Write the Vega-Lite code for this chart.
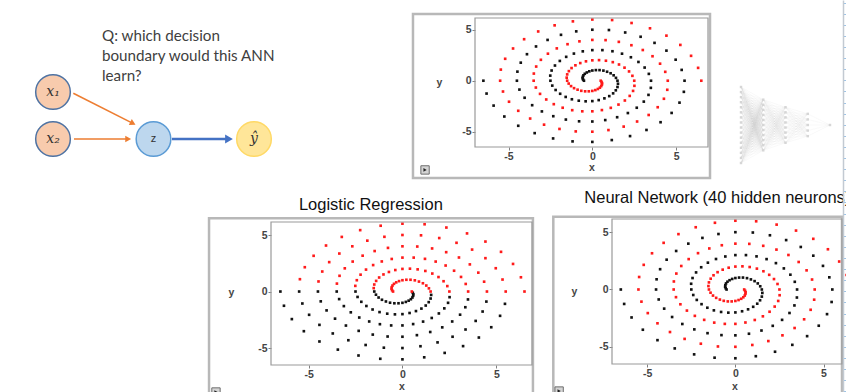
{
"$schema": "https://vega.github.io/schema/vega-lite/v6.json",
"width": 846, "height": 392, "autosize": "none", "padding": 0, "background": "white",
"config": {
 "view": {"stroke": null},
 "axis": {"zindex": 1, "grid": false, "domain": false, "labelFont": "Liberation Sans", "labelFontWeight": "bold", "labelFontSize": 10.5, "labelColor": "#454545", "tickColor": "#808080", "tickSize": 3, "labelPadding": 1, "titleFont": "Liberation Sans", "titleFontWeight": "bold", "titleFontSize": 10.5, "titleColor": "#454545", "titleAngle": 0, "titleAlign": "center", "titleBaseline": "middle", "labelExpr": "datum.value"}
},
"datasets": {
 "spiral": [
{"x":6.5,"y":0,"label":1,"lr":1},{"x":6.31,"y":1.26,"label":1,"lr":1},{"x":5.89,"y":2.44,"label":1,"lr":1},{"x":5.25,"y":3.51,"label":1,"lr":1},
{"x":4.42,"y":4.42,"label":1,"lr":1},{"x":3.44,"y":5.14,"label":1,"lr":1},{"x":2.34,"y":5.66,"label":1,"lr":1},{"x":1.18,"y":5.95,"label":1,"lr":1},
{"x":0,"y":6,"label":1,"lr":1},{"x":-1.16,"y":5.82,"label":1,"lr":1},{"x":-2.25,"y":5.43,"label":1,"lr":1},{"x":-3.23,"y":4.83,"label":1,"lr":1},
{"x":-4.07,"y":4.07,"label":1,"lr":1},{"x":-4.73,"y":3.16,"label":1,"lr":1},{"x":-5.2,"y":2.15,"label":1,"lr":1},{"x":-5.46,"y":1.09,"label":1,"lr":1},
{"x":-5.5,"y":0,"label":1,"lr":0},{"x":-5.33,"y":-1.06,"label":1,"lr":0},{"x":-4.97,"y":-2.06,"label":1,"lr":0},{"x":-4.42,"y":-2.95,"label":1,"lr":0},
{"x":-3.71,"y":-3.71,"label":1,"lr":0},{"x":-2.88,"y":-4.31,"label":1,"lr":0},{"x":-1.96,"y":-4.73,"label":1,"lr":0},{"x":-0.99,"y":-4.97,"label":1,"lr":0},
{"x":0,"y":-5,"label":1,"lr":0},{"x":0.96,"y":-4.84,"label":1,"lr":0},{"x":1.87,"y":-4.5,"label":1,"lr":0},{"x":2.67,"y":-4,"label":1,"lr":0},
{"x":3.36,"y":-3.36,"label":1,"lr":0},{"x":3.9,"y":-2.6,"label":1,"lr":0},{"x":4.27,"y":-1.77,"label":1,"lr":0},{"x":4.47,"y":-0.89,"label":1,"lr":0},
{"x":4.5,"y":0,"label":1,"lr":1},{"x":4.35,"y":0.87,"label":1,"lr":1},{"x":4.04,"y":1.67,"label":1,"lr":1},{"x":3.59,"y":2.4,"label":1,"lr":1},
{"x":3.01,"y":3.01,"label":1,"lr":1},{"x":2.33,"y":3.48,"label":1,"lr":1},{"x":1.58,"y":3.81,"label":1,"lr":1},{"x":0.79,"y":3.98,"label":1,"lr":1},
{"x":0,"y":4,"label":1,"lr":1},{"x":-0.77,"y":3.86,"label":1,"lr":1},{"x":-1.48,"y":3.58,"label":1,"lr":1},{"x":-2.12,"y":3.17,"label":1,"lr":1},
{"x":-2.65,"y":2.65,"label":1,"lr":1},{"x":-3.07,"y":2.05,"label":1,"lr":1},{"x":-3.35,"y":1.39,"label":1,"lr":1},{"x":-3.49,"y":0.7,"label":1,"lr":1},
{"x":-3.5,"y":0,"label":1,"lr":0},{"x":-3.37,"y":-0.67,"label":1,"lr":0},{"x":-3.12,"y":-1.29,"label":1,"lr":0},{"x":-2.75,"y":-1.84,"label":1,"lr":0},
{"x":-2.3,"y":-2.3,"label":1,"lr":0},{"x":-1.77,"y":-2.65,"label":1,"lr":0},{"x":-1.2,"y":-2.89,"label":1,"lr":0},{"x":-0.6,"y":-3,"label":1,"lr":0},
{"x":0,"y":-3,"label":1,"lr":0},{"x":0.57,"y":-2.88,"label":1,"lr":0},{"x":1.1,"y":-2.66,"label":1,"lr":0},{"x":1.56,"y":-2.34,"label":1,"lr":0},
{"x":1.94,"y":-1.94,"label":1,"lr":0},{"x":2.23,"y":-1.49,"label":1,"lr":0},{"x":2.43,"y":-1,"label":1,"lr":0},{"x":2.51,"y":-0.5,"label":1,"lr":0},
{"x":2.5,"y":0,"label":1,"lr":1},{"x":2.39,"y":0.48,"label":1,"lr":1},{"x":2.19,"y":0.91,"label":1,"lr":1},{"x":1.92,"y":1.28,"label":1,"lr":1},
{"x":1.59,"y":1.59,"label":1,"lr":1},{"x":1.22,"y":1.82,"label":1,"lr":1},{"x":0.81,"y":1.96,"label":1,"lr":1},{"x":0.4,"y":2.02,"label":1,"lr":1},
{"x":0,"y":2,"label":1,"lr":1},{"x":-0.38,"y":1.9,"label":1,"lr":1},{"x":-0.72,"y":1.73,"label":1,"lr":1},{"x":-1.01,"y":1.51,"label":1,"lr":1},
{"x":-1.24,"y":1.24,"label":1,"lr":1},{"x":-1.4,"y":0.94,"label":1,"lr":1},{"x":-1.5,"y":0.62,"label":1,"lr":1},{"x":-1.53,"y":0.3,"label":1,"lr":1},
{"x":-1.5,"y":0,"label":1,"lr":0},{"x":-1.41,"y":-0.28,"label":1,"lr":0},{"x":-1.27,"y":-0.53,"label":1,"lr":0},{"x":-1.09,"y":-0.73,"label":1,"lr":0},
{"x":-0.88,"y":-0.88,"label":1,"lr":0},{"x":-0.66,"y":-0.99,"label":1,"lr":0},{"x":-0.43,"y":-1.04,"label":1,"lr":0},{"x":-0.21,"y":-1.04,"label":1,"lr":0},
{"x":0,"y":-1,"label":1,"lr":0},{"x":0.18,"y":-0.92,"label":1,"lr":0},{"x":0.33,"y":-0.81,"label":1,"lr":0},{"x":0.45,"y":-0.68,"label":1,"lr":0},
{"x":0.53,"y":-0.53,"label":1,"lr":0},{"x":0.57,"y":-0.38,"label":1,"lr":0},{"x":0.58,"y":-0.24,"label":1,"lr":0},{"x":0.55,"y":-0.11,"label":1,"lr":0},
{"x":0.5,"y":0,"label":1,"lr":1},
{"x":-6.5,"y":0,"label":0,"lr":0},{"x":-6.31,"y":-1.26,"label":0,"lr":0},{"x":-5.89,"y":-2.44,"label":0,"lr":0},{"x":-5.25,"y":-3.51,"label":0,"lr":0},
{"x":-4.42,"y":-4.42,"label":0,"lr":0},{"x":-3.44,"y":-5.14,"label":0,"lr":0},{"x":-2.34,"y":-5.66,"label":0,"lr":0},{"x":-1.18,"y":-5.95,"label":0,"lr":0},
{"x":0,"y":-6,"label":0,"lr":0},{"x":1.16,"y":-5.82,"label":0,"lr":0},{"x":2.25,"y":-5.43,"label":0,"lr":0},{"x":3.23,"y":-4.83,"label":0,"lr":0},
{"x":4.07,"y":-4.07,"label":0,"lr":0},{"x":4.73,"y":-3.16,"label":0,"lr":0},{"x":5.2,"y":-2.15,"label":0,"lr":0},{"x":5.46,"y":-1.09,"label":0,"lr":0},
{"x":5.5,"y":0,"label":0,"lr":1},{"x":5.33,"y":1.06,"label":0,"lr":1},{"x":4.97,"y":2.06,"label":0,"lr":1},{"x":4.42,"y":2.95,"label":0,"lr":1},
{"x":3.71,"y":3.71,"label":0,"lr":1},{"x":2.88,"y":4.31,"label":0,"lr":1},{"x":1.96,"y":4.73,"label":0,"lr":1},{"x":0.99,"y":4.97,"label":0,"lr":1},
{"x":0,"y":5,"label":0,"lr":1},{"x":-0.96,"y":4.84,"label":0,"lr":1},{"x":-1.87,"y":4.5,"label":0,"lr":1},{"x":-2.67,"y":4,"label":0,"lr":1},
{"x":-3.36,"y":3.36,"label":0,"lr":1},{"x":-3.9,"y":2.6,"label":0,"lr":1},{"x":-4.27,"y":1.77,"label":0,"lr":1},{"x":-4.47,"y":0.89,"label":0,"lr":1},
{"x":-4.5,"y":0,"label":0,"lr":0},{"x":-4.35,"y":-0.87,"label":0,"lr":0},{"x":-4.04,"y":-1.67,"label":0,"lr":0},{"x":-3.59,"y":-2.4,"label":0,"lr":0},
{"x":-3.01,"y":-3.01,"label":0,"lr":0},{"x":-2.33,"y":-3.48,"label":0,"lr":0},{"x":-1.58,"y":-3.81,"label":0,"lr":0},{"x":-0.79,"y":-3.98,"label":0,"lr":0},
{"x":0,"y":-4,"label":0,"lr":0},{"x":0.77,"y":-3.86,"label":0,"lr":0},{"x":1.48,"y":-3.58,"label":0,"lr":0},{"x":2.12,"y":-3.17,"label":0,"lr":0},
{"x":2.65,"y":-2.65,"label":0,"lr":0},{"x":3.07,"y":-2.05,"label":0,"lr":0},{"x":3.35,"y":-1.39,"label":0,"lr":0},{"x":3.49,"y":-0.7,"label":0,"lr":0},
{"x":3.5,"y":0,"label":0,"lr":1},{"x":3.37,"y":0.67,"label":0,"lr":1},{"x":3.12,"y":1.29,"label":0,"lr":1},{"x":2.75,"y":1.84,"label":0,"lr":1},
{"x":2.3,"y":2.3,"label":0,"lr":1},{"x":1.77,"y":2.65,"label":0,"lr":1},{"x":1.2,"y":2.89,"label":0,"lr":1},{"x":0.6,"y":3,"label":0,"lr":1},
{"x":0,"y":3,"label":0,"lr":1},{"x":-0.57,"y":2.88,"label":0,"lr":1},{"x":-1.1,"y":2.66,"label":0,"lr":1},{"x":-1.56,"y":2.34,"label":0,"lr":1},
{"x":-1.94,"y":1.94,"label":0,"lr":1},{"x":-2.23,"y":1.49,"label":0,"lr":1},{"x":-2.43,"y":1,"label":0,"lr":1},{"x":-2.51,"y":0.5,"label":0,"lr":1},
{"x":-2.5,"y":0,"label":0,"lr":0},{"x":-2.39,"y":-0.48,"label":0,"lr":0},{"x":-2.19,"y":-0.91,"label":0,"lr":0},{"x":-1.92,"y":-1.28,"label":0,"lr":0},
{"x":-1.59,"y":-1.59,"label":0,"lr":0},{"x":-1.22,"y":-1.82,"label":0,"lr":0},{"x":-0.81,"y":-1.96,"label":0,"lr":0},{"x":-0.4,"y":-2.02,"label":0,"lr":0},
{"x":0,"y":-2,"label":0,"lr":0},{"x":0.38,"y":-1.9,"label":0,"lr":0},{"x":0.72,"y":-1.73,"label":0,"lr":0},{"x":1.01,"y":-1.51,"label":0,"lr":0},
{"x":1.24,"y":-1.24,"label":0,"lr":0},{"x":1.4,"y":-0.94,"label":0,"lr":0},{"x":1.5,"y":-0.62,"label":0,"lr":0},{"x":1.53,"y":-0.3,"label":0,"lr":0},
{"x":1.5,"y":0,"label":0,"lr":1},{"x":1.41,"y":0.28,"label":0,"lr":1},{"x":1.27,"y":0.53,"label":0,"lr":1},{"x":1.09,"y":0.73,"label":0,"lr":1},
{"x":0.88,"y":0.88,"label":0,"lr":1},{"x":0.66,"y":0.99,"label":0,"lr":1},{"x":0.43,"y":1.04,"label":0,"lr":1},{"x":0.21,"y":1.04,"label":0,"lr":1},
{"x":0,"y":1,"label":0,"lr":1},{"x":-0.18,"y":0.92,"label":0,"lr":1},{"x":-0.33,"y":0.81,"label":0,"lr":1},{"x":-0.45,"y":0.68,"label":0,"lr":1},
{"x":-0.53,"y":0.53,"label":0,"lr":1},{"x":-0.57,"y":0.38,"label":0,"lr":1},{"x":-0.58,"y":0.24,"label":0,"lr":1},{"x":-0.55,"y":0.11,"label":0,"lr":1},
{"x":-0.5,"y":0,"label":0,"lr":1}
 ],
 "nodes": [
  {"name":"x₁","col":0,"row":1,"role":"input"},
  {"name":"x₂","col":0,"row":0,"role":"input"},
  {"name":"z","col":1,"row":0,"role":"hidden"},
  {"name":"ŷ","col":2,"row":0,"role":"output"}
 ],
 "arrows": [
  {"x":0.202,"y":0.972,"x2":0.795,"y2":0.332,"angle":26.8,"kind":"in"},
  {"x":0.209,"y":0,"x2":0.748,"y2":0,"angle":0,"kind":"in"},
  {"x":1.184,"y":0,"x2":1.751,"y2":0,"angle":0,"kind":"out"}
 ],
 "net": [
  {"layer":0,"pos":-7.5,"next":1,"targets":[-5,-4,-3,-2,-1,0,1,2,3,4,5]},
  {"layer":0,"pos":-6.5,"next":1,"targets":[-5,-4,-3,-2,-1,0,1,2,3,4,5]},
  {"layer":0,"pos":-5.5,"next":1,"targets":[-5,-4,-3,-2,-1,0,1,2,3,4,5]},
  {"layer":0,"pos":-4.5,"next":1,"targets":[-5,-4,-3,-2,-1,0,1,2,3,4,5]},
  {"layer":0,"pos":-3.5,"next":1,"targets":[-5,-4,-3,-2,-1,0,1,2,3,4,5]},
  {"layer":0,"pos":-2.5,"next":1,"targets":[-5,-4,-3,-2,-1,0,1,2,3,4,5]},
  {"layer":0,"pos":-1.5,"next":1,"targets":[-5,-4,-3,-2,-1,0,1,2,3,4,5]},
  {"layer":0,"pos":-0.5,"next":1,"targets":[-5,-4,-3,-2,-1,0,1,2,3,4,5]},
  {"layer":0,"pos":0.5,"next":1,"targets":[-5,-4,-3,-2,-1,0,1,2,3,4,5]},
  {"layer":0,"pos":1.5,"next":1,"targets":[-5,-4,-3,-2,-1,0,1,2,3,4,5]},
  {"layer":0,"pos":2.5,"next":1,"targets":[-5,-4,-3,-2,-1,0,1,2,3,4,5]},
  {"layer":0,"pos":3.5,"next":1,"targets":[-5,-4,-3,-2,-1,0,1,2,3,4,5]},
  {"layer":0,"pos":4.5,"next":1,"targets":[-5,-4,-3,-2,-1,0,1,2,3,4,5]},
  {"layer":0,"pos":5.5,"next":1,"targets":[-5,-4,-3,-2,-1,0,1,2,3,4,5]},
  {"layer":0,"pos":6.5,"next":1,"targets":[-5,-4,-3,-2,-1,0,1,2,3,4,5]},
  {"layer":0,"pos":7.5,"next":1,"targets":[-5,-4,-3,-2,-1,0,1,2,3,4,5]},
  {"layer":1,"pos":-5,"next":2,"targets":[-3.5,-2.5,-1.5,-0.5,0.5,1.5,2.5,3.5]},
  {"layer":1,"pos":-4,"next":2,"targets":[-3.5,-2.5,-1.5,-0.5,0.5,1.5,2.5,3.5]},
  {"layer":1,"pos":-3,"next":2,"targets":[-3.5,-2.5,-1.5,-0.5,0.5,1.5,2.5,3.5]},
  {"layer":1,"pos":-2,"next":2,"targets":[-3.5,-2.5,-1.5,-0.5,0.5,1.5,2.5,3.5]},
  {"layer":1,"pos":-1,"next":2,"targets":[-3.5,-2.5,-1.5,-0.5,0.5,1.5,2.5,3.5]},
  {"layer":1,"pos":0,"next":2,"targets":[-3.5,-2.5,-1.5,-0.5,0.5,1.5,2.5,3.5]},
  {"layer":1,"pos":1,"next":2,"targets":[-3.5,-2.5,-1.5,-0.5,0.5,1.5,2.5,3.5]},
  {"layer":1,"pos":2,"next":2,"targets":[-3.5,-2.5,-1.5,-0.5,0.5,1.5,2.5,3.5]},
  {"layer":1,"pos":3,"next":2,"targets":[-3.5,-2.5,-1.5,-0.5,0.5,1.5,2.5,3.5]},
  {"layer":1,"pos":4,"next":2,"targets":[-3.5,-2.5,-1.5,-0.5,0.5,1.5,2.5,3.5]},
  {"layer":1,"pos":5,"next":2,"targets":[-3.5,-2.5,-1.5,-0.5,0.5,1.5,2.5,3.5]},
  {"layer":2,"pos":-3.5,"next":3,"targets":[-2.2,-1.1,0,1.1,2.2]},
  {"layer":2,"pos":-2.5,"next":3,"targets":[-2.2,-1.1,0,1.1,2.2]},
  {"layer":2,"pos":-1.5,"next":3,"targets":[-2.2,-1.1,0,1.1,2.2]},
  {"layer":2,"pos":-0.5,"next":3,"targets":[-2.2,-1.1,0,1.1,2.2]},
  {"layer":2,"pos":0.5,"next":3,"targets":[-2.2,-1.1,0,1.1,2.2]},
  {"layer":2,"pos":1.5,"next":3,"targets":[-2.2,-1.1,0,1.1,2.2]},
  {"layer":2,"pos":2.5,"next":3,"targets":[-2.2,-1.1,0,1.1,2.2]},
  {"layer":2,"pos":3.5,"next":3,"targets":[-2.2,-1.1,0,1.1,2.2]},
  {"layer":3,"pos":-2.2,"next":4,"targets":[0]},
  {"layer":3,"pos":-1.1,"next":4,"targets":[0]},
  {"layer":3,"pos":0,"next":4,"targets":[0]},
  {"layer":3,"pos":1.1,"next":4,"targets":[0]},
  {"layer":3,"pos":2.2,"next":4,"targets":[0]},
  {"layer":4,"pos":0,"next":4,"targets":[]}
 ]
},
"layer": [
 {
  "layer": [
   {"data": {"name": "arrows"}, "mark": {"type": "rule"},
    "encoding": {
     "x": {"field": "x", "type": "quantitative", "scale": {"domain": [0, 2], "range": [53, 254], "nice": false, "zero": false}, "axis": null},
     "y": {"field": "y", "type": "quantitative", "scale": {"domain": [0, 1], "range": [139, 92], "nice": false, "zero": false}, "axis": null},
     "x2": {"field": "x2"}, "y2": {"field": "y2"},
     "color": {"field": "kind", "type": "nominal", "scale": {"domain": ["in", "out"], "range": ["#ED7D31", "#4472C4"]}, "legend": null},
     "strokeWidth": {"field": "kind", "type": "ordinal", "scale": {"domain": ["in", "out"], "range": [1.6, 2.6]}, "legend": null}
    }},
   {"data": {"name": "arrows"}, "mark": {"type": "point", "shape": "triangle-right", "filled": true, "opacity": 1},
    "encoding": {
     "x": {"field": "x2", "type": "quantitative", "axis": null},
     "y": {"field": "y2", "type": "quantitative", "axis": null},
     "angle": {"field": "angle", "type": "quantitative", "scale": null},
     "color": {"field": "kind", "type": "nominal", "legend": null},
     "size": {"field": "kind", "type": "ordinal", "scale": {"domain": ["in", "out"], "range": [45, 80]}, "legend": null}
    }},
   {"data": {"name": "nodes"}, "mark": {"type": "circle", "size": 1200, "strokeWidth": 1.5, "opacity": 1},
    "encoding": {
     "x": {"field": "col", "type": "quantitative", "axis": null},
     "y": {"field": "row", "type": "quantitative", "axis": null},
     "fill": {"field": "role", "type": "nominal", "scale": {"domain": ["input", "hidden", "output"], "range": ["#F8CBAD", "#BDD7EE", "#FFE699"]}, "legend": null},
     "stroke": {"field": "role", "type": "nominal", "scale": {"domain": ["input", "hidden", "output"], "range": ["#4F73A3", "#5B9BD5", "#FFD966"]}, "legend": null}
    }},
   {"data": {"name": "nodes"}, "transform": [{"filter": {"field": "role", "oneOf": ["input", "output"]}}],
    "mark": {"type": "text", "font": "DejaVu Serif", "fontStyle": "italic", "fontSize": 14, "color": "#333333", "align": "center", "baseline": "middle"},
    "encoding": {
     "x": {"field": "col", "type": "quantitative", "axis": null},
     "y": {"field": "row", "type": "quantitative", "axis": null},
     "text": {"field": "name"}
    }},
   {"data": {"name": "nodes"}, "transform": [{"filter": {"field": "role", "equal": "hidden"}}],
    "mark": {"type": "text", "font": "Liberation Sans", "fontSize": 11, "color": "#333333", "align": "center", "baseline": "middle"},
    "encoding": {
     "x": {"field": "col", "type": "quantitative", "axis": null},
     "y": {"field": "row", "type": "quantitative", "axis": null},
     "text": {"field": "name"}
    }},
   {"data": {"values": [{"q": "Q: which decision\nboundary would this ANN\nlearn?"}]},
    "mark": {"type": "text", "font": "Lato", "fontSize": 15.2, "color": "#404040", "align": "left", "baseline": "alphabetic", "lineBreak": "\n", "lineHeight": 20},
    "encoding": {
     "x": {"datum": 0.4876, "type": "quantitative", "axis": null},
     "y": {"datum": 2.091, "type": "quantitative", "axis": null},
     "text": {"field": "q"}
    }}
  ]
 },
 {
  "layer": [
   {"data": {"name": "spiral"}, "mark": {"type": "square", "size": 7, "opacity": 1},
    "encoding": {
     "x": {"field": "x", "type": "quantitative", "scale": {"domain": [-7, 6.9], "range": [475, 708], "nice": false, "zero": false},
           "axis": {"orient": "bottom", "offset": -245, "values": [-5, 0, 5], "title": "x", "titleY": 20}},
     "y": {"field": "y", "type": "quantitative", "scale": {"domain": [-6.5, 6.15], "range": [147, 18], "nice": false, "zero": false},
           "axis": {"orient": "left", "offset": -475, "values": [-5, 0, 5], "title": "y", "titleX": -36, "titleY": 82}},
     "color": {"field": "label", "type": "nominal", "scale": {"domain": [0, 1], "range": ["#111111", "#ff1a1a"]}, "legend": null}
    }},
   {"data": {"values": [{}]}, "mark": {"type": "rect", "fillOpacity": 0, "stroke": "#b8b8b8", "strokeWidth": 2.5},
    "encoding": {"x": {"datum": -10.7, "type": "quantitative"}, "x2": {"datum": 7.02}, "y": {"datum": 6.54, "type": "quantitative"}, "y2": {"datum": -9.54}}},
   {"data": {"values": [{}]}, "mark": {"type": "rect", "fillOpacity": 0, "stroke": "#9a9a9a", "strokeWidth": 1.2},
    "encoding": {"x": {"datum": -7, "type": "quantitative"}, "x2": {"datum": 6.9}, "y": {"datum": 6.15, "type": "quantitative"}, "y2": {"datum": -6.5}}},
   {"data": {"values": [{}]}, "mark": {"type": "square", "size": 70, "fill": "#d4d4d4", "stroke": "#6e6e6e", "strokeWidth": 1, "opacity": 1},
    "encoding": {"x": {"datum": -9.98, "type": "quantitative"}, "y": {"datum": -8.75, "type": "quantitative"}}},
   {"data": {"values": [{}]}, "mark": {"type": "point", "shape": "triangle-right", "size": 14, "filled": true, "color": "#222222", "opacity": 1},
    "encoding": {"x": {"datum": -9.98, "type": "quantitative"}, "y": {"datum": -8.75, "type": "quantitative"}}}
  ]
 },
 {
  "layer": [
   {"data": {"name": "spiral"}, "mark": {"type": "square", "size": 7, "opacity": 1},
    "encoding": {
     "x": {"field": "x", "type": "quantitative", "scale": {"domain": [-7, 6.9], "range": [271, 532], "nice": false, "zero": false},
           "axis": {"orient": "bottom", "offset": -27, "values": [-5, 0, 5], "title": "x", "titleY": 21.5}},
     "y": {"field": "y", "type": "quantitative", "scale": {"domain": [-6.5, 6.15], "range": [365, 222], "nice": false, "zero": false},
           "axis": {"orient": "left", "offset": -271, "values": [-5, 0, 5], "title": "y", "titleX": -40, "titleY": 292}},
     "color": {"field": "lr", "type": "nominal", "scale": {"domain": [0, 1], "range": ["#111111", "#ff1a1a"]}, "legend": null}
    }},
   {"data": {"values": [{}]}, "mark": {"type": "rect", "fillOpacity": 0, "stroke": "#b8b8b8", "strokeWidth": 2.5},
    "encoding": {"x": {"datum": -10.3, "type": "quantitative"}, "x2": {"datum": 6.95}, "y": {"datum": 6.48, "type": "quantitative"}, "y2": {"datum": -10}}},
   {"data": {"values": [{}]}, "mark": {"type": "rect", "fillOpacity": 0, "stroke": "#9a9a9a", "strokeWidth": 1.2},
    "encoding": {"x": {"datum": -7, "type": "quantitative"}, "x2": {"datum": 6.9}, "y": {"datum": 6.15, "type": "quantitative"}, "y2": {"datum": -6.5}}},
   {"data": {"values": [{"t": "Logistic Regression"}]}, "mark": {"type": "text", "font": "Liberation Sans", "fontSize": 16.5, "color": "#111111", "align": "center", "baseline": "alphabetic"},
    "encoding": {"x": {"datum": -1.68, "type": "quantitative"}, "y": {"datum": 7.22, "type": "quantitative"}, "text": {"field": "t"}}},
   {"data": {"values": [{}]}, "mark": {"type": "square", "size": 70, "fill": "#d4d4d4", "stroke": "#6e6e6e", "strokeWidth": 1, "opacity": 1},
    "encoding": {"x": {"datum": -9.93, "type": "quantitative"}, "y": {"datum": -8.89, "type": "quantitative"}}},
   {"data": {"values": [{}]}, "mark": {"type": "point", "shape": "triangle-right", "size": 14, "filled": true, "color": "#222222", "opacity": 1},
    "encoding": {"x": {"datum": -9.93, "type": "quantitative"}, "y": {"datum": -8.89, "type": "quantitative"}}}
  ]
 },
 {
  "layer": [
   {"data": {"name": "spiral"}, "mark": {"type": "square", "size": 7, "opacity": 1},
    "encoding": {
     "x": {"field": "x", "type": "quantitative", "scale": {"domain": [-7, 6.9], "range": [612, 857], "nice": false, "zero": false},
           "axis": {"orient": "bottom", "offset": -28, "values": [-5, 0, 5], "title": "x", "titleY": 22.5}},
     "y": {"field": "y", "type": "quantitative", "scale": {"domain": [-6.5, 6.15], "range": [364, 219], "nice": false, "zero": false},
           "axis": {"orient": "left", "offset": -612, "values": [-5, 0, 5], "title": "y", "titleX": -38, "titleY": 291}},
     "color": {"field": "label", "type": "nominal", "scale": {"domain": [0, 1], "range": ["#111111", "#ff1a1a"]}, "legend": null}
    }},
   {"data": {"values": [{}]}, "mark": {"type": "rect", "fillOpacity": 0, "stroke": "#b8b8b8", "strokeWidth": 2.5},
    "encoding": {"x": {"datum": -10.33, "type": "quantitative"}, "x2": {"datum": 6.05}, "y": {"datum": 6.35, "type": "quantitative"}, "y2": {"datum": -10}}},
   {"data": {"values": [{}]}, "mark": {"type": "rect", "fillOpacity": 0, "stroke": "#9a9a9a", "strokeWidth": 1.2},
    "encoding": {"x": {"datum": -7, "type": "quantitative"}, "x2": {"datum": 6.05}, "y": {"datum": 6.15, "type": "quantitative"}, "y2": {"datum": -6.5}}},
   {"data": {"values": [{"t": "Neural Network (40 hidden neurons)"}]}, "mark": {"type": "text", "font": "Liberation Sans", "fontSize": 16.5, "color": "#111111", "align": "left", "baseline": "alphabetic"},
    "encoding": {"x": {"datum": -8.57, "type": "quantitative"}, "y": {"datum": 7.52, "type": "quantitative"}, "text": {"field": "t"}}},
   {"data": {"values": [{}]}, "mark": {"type": "square", "size": 70, "fill": "#d4d4d4", "stroke": "#6e6e6e", "strokeWidth": 1, "opacity": 1},
    "encoding": {"x": {"datum": -10.0, "type": "quantitative"}, "y": {"datum": -8.86, "type": "quantitative"}}},
   {"data": {"values": [{}]}, "mark": {"type": "point", "shape": "triangle-right", "size": 14, "filled": true, "color": "#222222", "opacity": 1},
    "encoding": {"x": {"datum": -10.0, "type": "quantitative"}, "y": {"datum": -8.86, "type": "quantitative"}}}
  ]
 },
 {
  "data": {"name": "net"},
  "layer": [
   {"transform": [{"flatten": ["targets"], "as": ["target"]}],
    "mark": {"type": "rule", "color": "#b0b0b0", "strokeWidth": 0.5, "opacity": 0.15},
    "encoding": {
     "x": {"field": "layer", "type": "quantitative", "scale": {"domain": [0, 4], "range": [741, 830], "nice": false, "zero": false}, "axis": null},
     "y": {"field": "pos", "type": "quantitative", "scale": {"domain": [-7.5, 7.5], "range": [163, 87], "nice": false, "zero": false}, "axis": null},
     "x2": {"field": "next"}, "y2": {"field": "target"}
    }},
   {"mark": {"type": "square", "size": 6, "color": "#d6d6d6", "opacity": 1},
    "encoding": {
     "x": {"field": "layer", "type": "quantitative", "axis": null},
     "y": {"field": "pos", "type": "quantitative", "axis": null}
    }}
  ]
 },
 {
  "data": {"values": [{}]},
  "mark": {"type": "rule", "opacity": 0},
  "encoding": {
   "y": {"datum": 0, "type": "quantitative", "scale": {"domain": [-0.07, 35.24], "range": [392, 0], "nice": false, "zero": false},
         "axis": {"orient": "right", "offset": -3, "values": [0,1,2,3,4,5,6,7,8,9,10,11,12,13,14,15,16,17,18,19,20,21,22,23,24,25,26,27,28,29,30,31,32,33,34,35], "labels": false, "ticks": true, "tickSize": 3, "tickColor": "#9DC3E6", "tickWidth": 1, "domain": true, "domainColor": "#C3CAD2", "domainWidth": 1.5, "title": null, "grid": false, "zindex": 2}}
  }
 }
],
"resolve": {"scale": {"x": "independent", "y": "independent", "color": "independent", "fill": "independent", "stroke": "independent", "size": "independent", "strokeWidth": "independent", "angle": "independent"}, "axis": {"x": "independent", "y": "independent"}}
}
